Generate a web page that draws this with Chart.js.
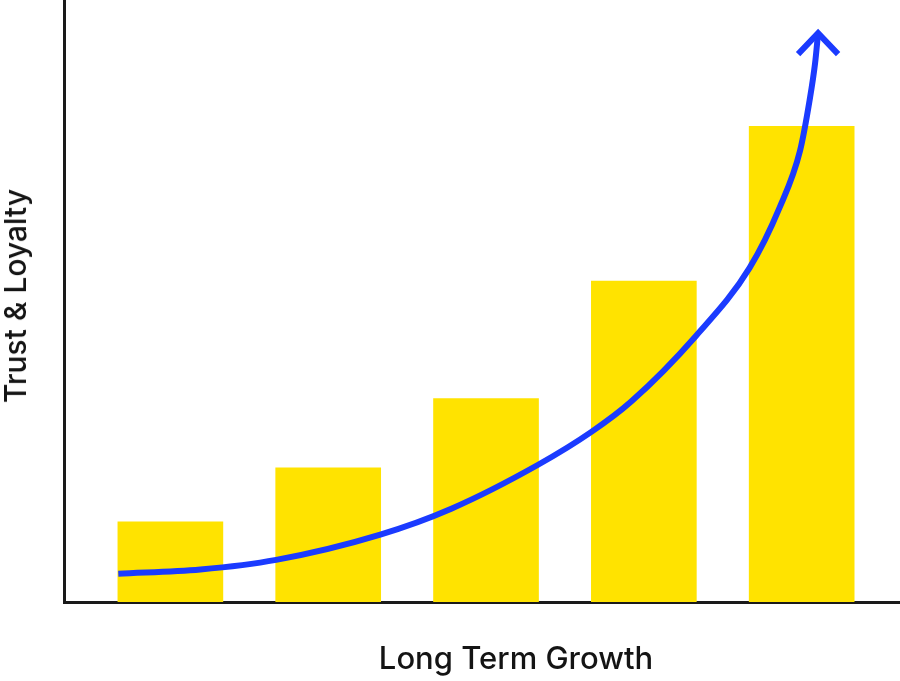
<!DOCTYPE html>
<html>
<head>
<meta charset="utf-8">
<script src="https://cdn.jsdelivr.net/npm/chart.js@4"></script>
<style>
  html, body { margin: 0; padding: 0; background: #fff; }
  .wrap { position: relative; width: 900px; height: 681px; }
  .axis-title { position: absolute; font-family: Inter, "Liberation Sans", sans-serif; font-weight: 500; color: #141414; white-space: nowrap; }
  #xTitle { left: 516px; top: 657px; font-size: 31px; transform: translate(-50%, -50%); }
  #yTitle { left: 15px; top: 296px; font-size: 30px; transform: translate(-50%, -50%) rotate(-90deg); }
</style>
</head>
<body>
<div class="wrap">
  <canvas id="chart"></canvas>
  <div class="axis-title" id="xTitle">Long Term Growth</div>
  <div class="axis-title" id="yTitle">Trust &amp; Loyalty</div>
</div>
<script>
// dados
const barPositions = [0, 1, 2, 3, 4];
const barValues = [13.3, 22.3, 33.8, 53.3, 79];
const curveX = [-0.33, 0.19, 0.67, 1.33, 1.78, 2.33, 2.67, 2.92, 3.33, 3.67, 3.86, 3.99, 4.05, 4.085, 4.104];
const curveY = [4.7, 5.4, 7.0, 11.2, 15.5, 22.8, 28.3, 33.3, 44.2, 55.5, 65.5, 75, 83.3, 89.5, 94.5];

const yellow = '#FFE300';
const blue = '#1B3BFF';

// seta no fim da curva
const arrowHead = {
    id: 'arrowHead',
    afterDatasetsDraw(chart) {
        const pts = chart.getDatasetMeta(1).data;
        const tip = pts[pts.length - 1];
        const ctx = chart.ctx;
        ctx.save();
        ctx.strokeStyle = blue;
        ctx.lineWidth = 6;
        ctx.lineCap = 'butt';
        ctx.lineJoin = 'miter';
        ctx.beginPath();
        ctx.moveTo(tip.x - 20, tip.y + 21);
        ctx.lineTo(tip.x, tip.y);
        ctx.lineTo(tip.x + 20, tip.y + 21);
        ctx.stroke();
        ctx.restore();
    }
};

const ctx = document.getElementById('chart').getContext('2d');
const chart = new Chart(ctx, {
    type: 'bar',
    data: {
        datasets: [{
            type: 'bar',
            data: barPositions.map((x, i) => ({ x: x, y: barValues[i] })),
            backgroundColor: yellow,
            barThickness: 105,
            order: 2
        }, {
            type: 'line',
            data: curveX.map((x, i) => ({ x: x, y: curveY[i] })),
            borderColor: blue,
            borderWidth: 6,
            pointRadius: 0,
            cubicInterpolationMode: 'monotone',
            fill: false,
            clip: false,
            order: 1
        }]
    },
    options: {
        responsive: true,
        maintainAspectRatio: false,
        animation: false,
        layout: { padding: { left: 56, top: 0, right: 0, bottom: 71 } },
        plugins: {
            legend: { display: false },
            tooltip: { enabled: false }
        },
        scales: {
            x: {
                type: 'linear',
                offset: false,
                min: -0.674,
                max: 4.623,
                ticks: { display: false },
                grid: { display: false, offset: false },
                border: { display: true, color: '#1a1a1a', width: 3 }
            },
            y: {
                min: 0,
                max: 100,
                ticks: { display: false },
                grid: { display: false },
                border: { display: true, color: '#1a1a1a', width: 3 }
            }
        }
    },
    plugins: [arrowHead]
});
</script>
</body>
</html>
